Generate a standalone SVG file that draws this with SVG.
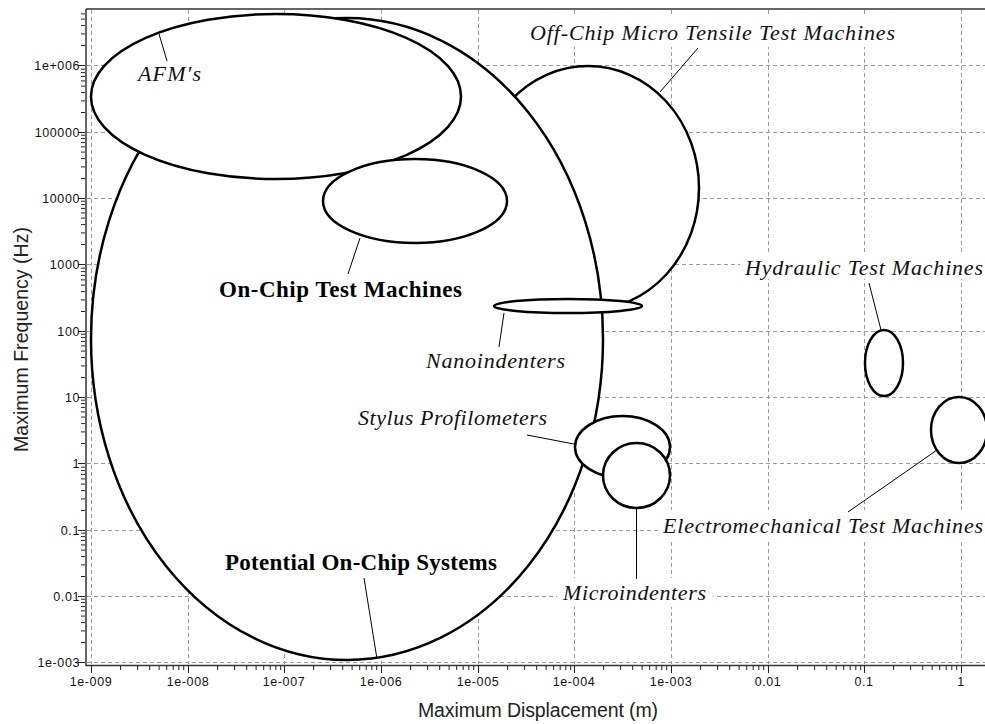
<svg xmlns="http://www.w3.org/2000/svg" xmlns:xlink="http://www.w3.org/1999/xlink" width="985" height="724" viewBox="0 0 985 724">
<style>
.grid{stroke:#9a9a9a;stroke-width:1;stroke-dasharray:4,3;fill:none}
.axis{stroke:#333;stroke-width:1.5;fill:none}
.tick{stroke:#222;stroke-width:1;fill:none}
.tl{font-family:"Liberation Sans",Arial,sans-serif;font-size:12.5px;letter-spacing:0.6px;fill:#111}
.title{font-family:"Liberation Sans",Arial,sans-serif;font-size:19.5px;fill:#222}
.node{fill:#fff;stroke:#000;stroke-width:2.5}
.lab{font-family:"Liberation Serif","Times New Roman",serif;font-style:italic;font-size:22px;fill:#111}
.blab{font-family:"Liberation Serif","Times New Roman",serif;font-weight:bold;font-size:23px;fill:#000}
.box{fill:#fff;stroke:none}
.lead{stroke:#000;stroke-width:1;fill:none}
</style>
<defs>
<path id="xdec" d="M0 0v7M29.1 0v4M46.1 0v4M58.2 0v4M67.6 0v4M75.2 0v4M81.7 0v4M87.3 0v4M92.2 0v4"/>
<path id="ydec" d="M0 0h-7M0 -20h-4M0 -31.6h-4M0 -39.9h-4M0 -46.4h-4M0 -51.6h-4M0 -56.1h-4M0 -59.9h-4M0 -63.3h-4"/>
</defs>
<rect width="985" height="724" fill="#fff"/>
<g id="grid" class="grid">
<path d="M91.5 10V664M188.5 10V664M284.5 10V664M381.5 10V664M478.5 10V664M574.5 10V664M671.5 10V664M768.5 10V664M864.5 10V664M961.5 10V664"/>
<path d="M87 65.5H985M87 132.5H985M87 198.5H985M87 264.5H985M87 331.5H985M87 397.5H985M87 463.5H985M87 530.5H985M87 596.5H985M87 662.5H985"/>
</g>
<g id="axes">
<path class="axis" d="M86 9H985M86 9V665.5H985"/>
<g class="tick">
<use xlink:href="#xdec" x="91.5" y="666"/>
<use xlink:href="#xdec" x="188.5" y="666"/>
<use xlink:href="#xdec" x="284.5" y="666"/>
<use xlink:href="#xdec" x="381.5" y="666"/>
<use xlink:href="#xdec" x="478.5" y="666"/>
<use xlink:href="#xdec" x="574.5" y="666"/>
<use xlink:href="#xdec" x="671.5" y="666"/>
<use xlink:href="#xdec" x="768.5" y="666"/>
<use xlink:href="#xdec" x="864.5" y="666"/>
<path d="M961.5 666v7"/>
<use xlink:href="#ydec" x="85" y="662.5"/>
<use xlink:href="#ydec" x="85" y="596.5"/>
<use xlink:href="#ydec" x="85" y="530.5"/>
<use xlink:href="#ydec" x="85" y="463.5"/>
<use xlink:href="#ydec" x="85" y="397.5"/>
<use xlink:href="#ydec" x="85" y="331.5"/>
<use xlink:href="#ydec" x="85" y="264.5"/>
<use xlink:href="#ydec" x="85" y="198.5"/>
<use xlink:href="#ydec" x="85" y="132.5"/>
<path d="M85 65.5h-7M85 45.5h-4M85 33.9h-4M85 25.6h-4M85 19.1h-4M85 13.9h-4"/>
</g>
<g class="tl" text-anchor="middle">
<text x="91" y="686">1e-009</text>
<text x="188" y="686">1e-008</text>
<text x="284" y="686">1e-007</text>
<text x="381" y="686">1e-006</text>
<text x="478" y="686">1e-005</text>
<text x="574" y="686">1e-004</text>
<text x="671" y="686">1e-003</text>
<text x="768" y="686">0.01</text>
<text x="864" y="686">0.1</text>
<text x="961" y="686">1</text>
</g>
<g class="tl" text-anchor="end">
<text x="80" y="69.5">1e+006</text>
<text x="80" y="136.5">100000</text>
<text x="80" y="202.5">10000</text>
<text x="80" y="268.5">1000</text>
<text x="80" y="335.5">100</text>
<text x="80" y="401.5">10</text>
<text x="80" y="467.5">1</text>
<text x="80" y="534.5">0.1</text>
<text x="80" y="600.5">0.01</text>
<text x="80" y="666.5">1e-003</text>
</g>
<text class="title" x="418" y="717" textLength="240">Maximum Displacement (m)</text>
<text class="title" transform="translate(28,452) rotate(-90)" x="0" y="0" textLength="225">Maximum Frequency (Hz)</text>
</g>
<g id="off-chip">
<ellipse class="node" cx="588" cy="188" rx="111" ry="122"/>
<rect class="box" x="524" y="16" width="377" height="31"/>
<text class="lab" x="530" y="40" textLength="365">Off-Chip Micro Tensile Test Machines</text>
</g>
<g id="potential">
<ellipse class="node" cx="347" cy="339" rx="256" ry="321"/>
<text class="blab" x="225" y="570" textLength="272">Potential On-Chip Systems</text>
</g>
<g id="afm">
<ellipse class="node" cx="276" cy="96.5" rx="185" ry="82.5"/>
<text class="lab" x="138" y="81" textLength="63">AFM's</text>
</g>
<g id="on-chip">
<ellipse class="node" cx="415" cy="201" rx="92" ry="42"/>
<text class="blab" x="219" y="297" textLength="243">On-Chip Test Machines</text>
</g>
<g id="nanoindenters">
<ellipse class="node" cx="568" cy="306" rx="74" ry="7"/>
<text class="lab" x="426" y="368" textLength="139">Nanoindenters</text>
</g>
<g id="stylus">
<ellipse class="node" cx="622.5" cy="447" rx="47.5" ry="31"/>
<text class="lab" x="358" y="425" textLength="189">Stylus Profilometers</text>
</g>
<g id="microindenters">
<ellipse class="node" cx="636.5" cy="475.5" rx="33.5" ry="32.5"/>
<rect class="box" x="557" y="578" width="156" height="29"/>
<text class="lab" x="563" y="600" textLength="143">Microindenters</text>
</g>
<g id="hydraulic">
<ellipse class="node" cx="884" cy="363" rx="19" ry="33"/>
<rect class="box" x="740" y="252" width="245" height="27"/>
<text class="lab" x="745" y="275" textLength="238">Hydraulic Test Machines</text>
</g>
<g id="electromechanical">
<ellipse class="node" cx="959" cy="430" rx="28" ry="33"/>
<rect class="box" x="659" y="510" width="326" height="30"/>
<text class="lab" x="663" y="533" textLength="320">Electromechanical Test Machines</text>
</g>
<g id="connectors" class="lead">
<line x1="698" y1="48" x2="660" y2="92"/>
<line x1="159" y1="34" x2="167" y2="61"/>
<line x1="360" y1="238" x2="348" y2="274"/>
<line x1="504" y1="313" x2="499" y2="347"/>
<line x1="574" y1="444" x2="527" y2="435"/>
<line x1="636.5" y1="508" x2="636.5" y2="579"/>
<line x1="881" y1="330" x2="869" y2="283"/>
<line x1="937" y1="450" x2="848" y2="512"/>
<line x1="377" y1="659" x2="364" y2="578"/>
</g>
</svg>
